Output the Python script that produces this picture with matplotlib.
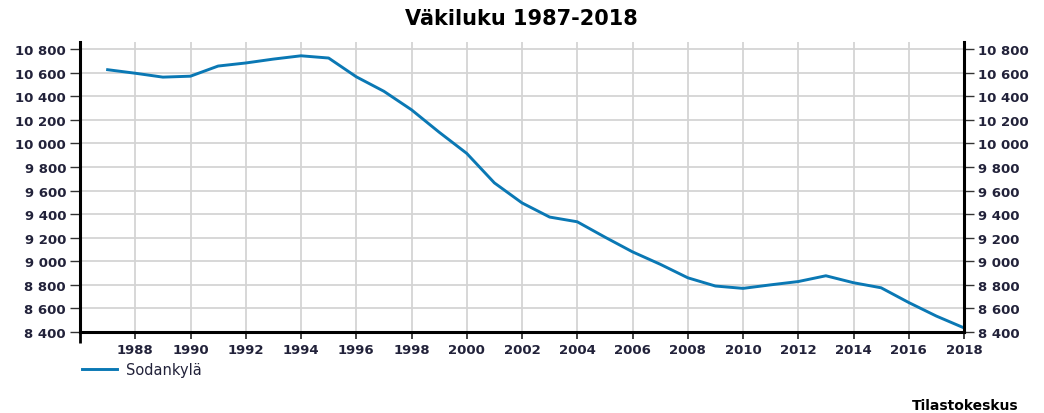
import matplotlib.pyplot as plt
from matplotlib.ticker import FuncFormatter

plt.rcParams['font.family'] = ['DejaVu Sans']

# Väkiluku, Sodankylä
vuodet = list(range(1987, 2019))
vakiluku = [10625, 10595, 10562, 10570, 10656, 10682, 10715, 10743, 10724, 10565,
            10442, 10285, 10095, 9915, 9665, 9495, 9375, 9335, 9205, 9080,
            8975, 8860, 8790, 8770, 8800, 8828, 8877, 8818, 8775, 8650,
            8535, 8435]
sarja = 'Sodankylä'
otsikko = 'Väkiluku 1987-2018'
lahde = 'Tilastokeskus'

y_ticks = list(range(8400, 10801, 200))
x_ticks = list(range(1988, 2019, 2))

tekstivari = '#22223a'
viivavari = '#0a78b4'

def muoto(v, pos):
    return '{:,}'.format(int(v)).replace(',', ' ')

fig = plt.figure(figsize=(10.44, 4.14), dpi=100)
ax = fig.add_axes([80/1044, 1-333/414, 884/1044, (333-43)/414])

ax.plot(vuodet, vakiluku, color=viivavari, lw=2.1, label=sarja, solid_joinstyle='round')

ax.set_xlim(1986, 2018)
ax.set_ylim(8400, 10860)
ax.set_yticks(y_ticks)
ax.set_xticks(x_ticks)
ax.yaxis.set_major_formatter(FuncFormatter(muoto))
ax.grid(True, color='#d4d4d4', lw=1.3)
ax.set_axisbelow(True)

for s in ['left', 'right', 'bottom']:
    ax.spines[s].set_linewidth(2.2)
    ax.spines[s].set_color('black')
ax.spines['top'].set_visible(False)

ax.tick_params(axis='y', which='both', left=True, right=True, labelleft=True, labelright=True,
               length=7, width=1, color='#333333', labelsize=9.5, labelcolor=tekstivari, pad=3)
ax.tick_params(axis='x', length=5, width=1.2, color='#222222', labelsize=9.5,
               labelcolor=tekstivari, pad=3)
for t in ax.get_xticklabels() + ax.get_yticklabels():
    t.set_fontweight('bold')

# pidemmät tikit x-akselin päissä
ax.set_xticks([1986, 2018], minor=True)
ax.tick_params(axis='x', which='minor', length=8, width=2, color='black')

fig.text(521/1044, 1-19/414, otsikko, ha='center', va='center', fontsize=15,
         fontweight='bold', color='black')

ax.legend(loc='upper left', bbox_to_anchor=(-0.004, -0.082), frameon=False,
          handlelength=2.4, handletextpad=0.6, fontsize=10.5, labelcolor=tekstivari,
          borderaxespad=0)

fig.text(1019/1044, 1-406/414, lahde, ha='right', va='center', fontsize=10,
         fontweight='bold', color='black')

fig.savefig('out.png', dpi=100)
